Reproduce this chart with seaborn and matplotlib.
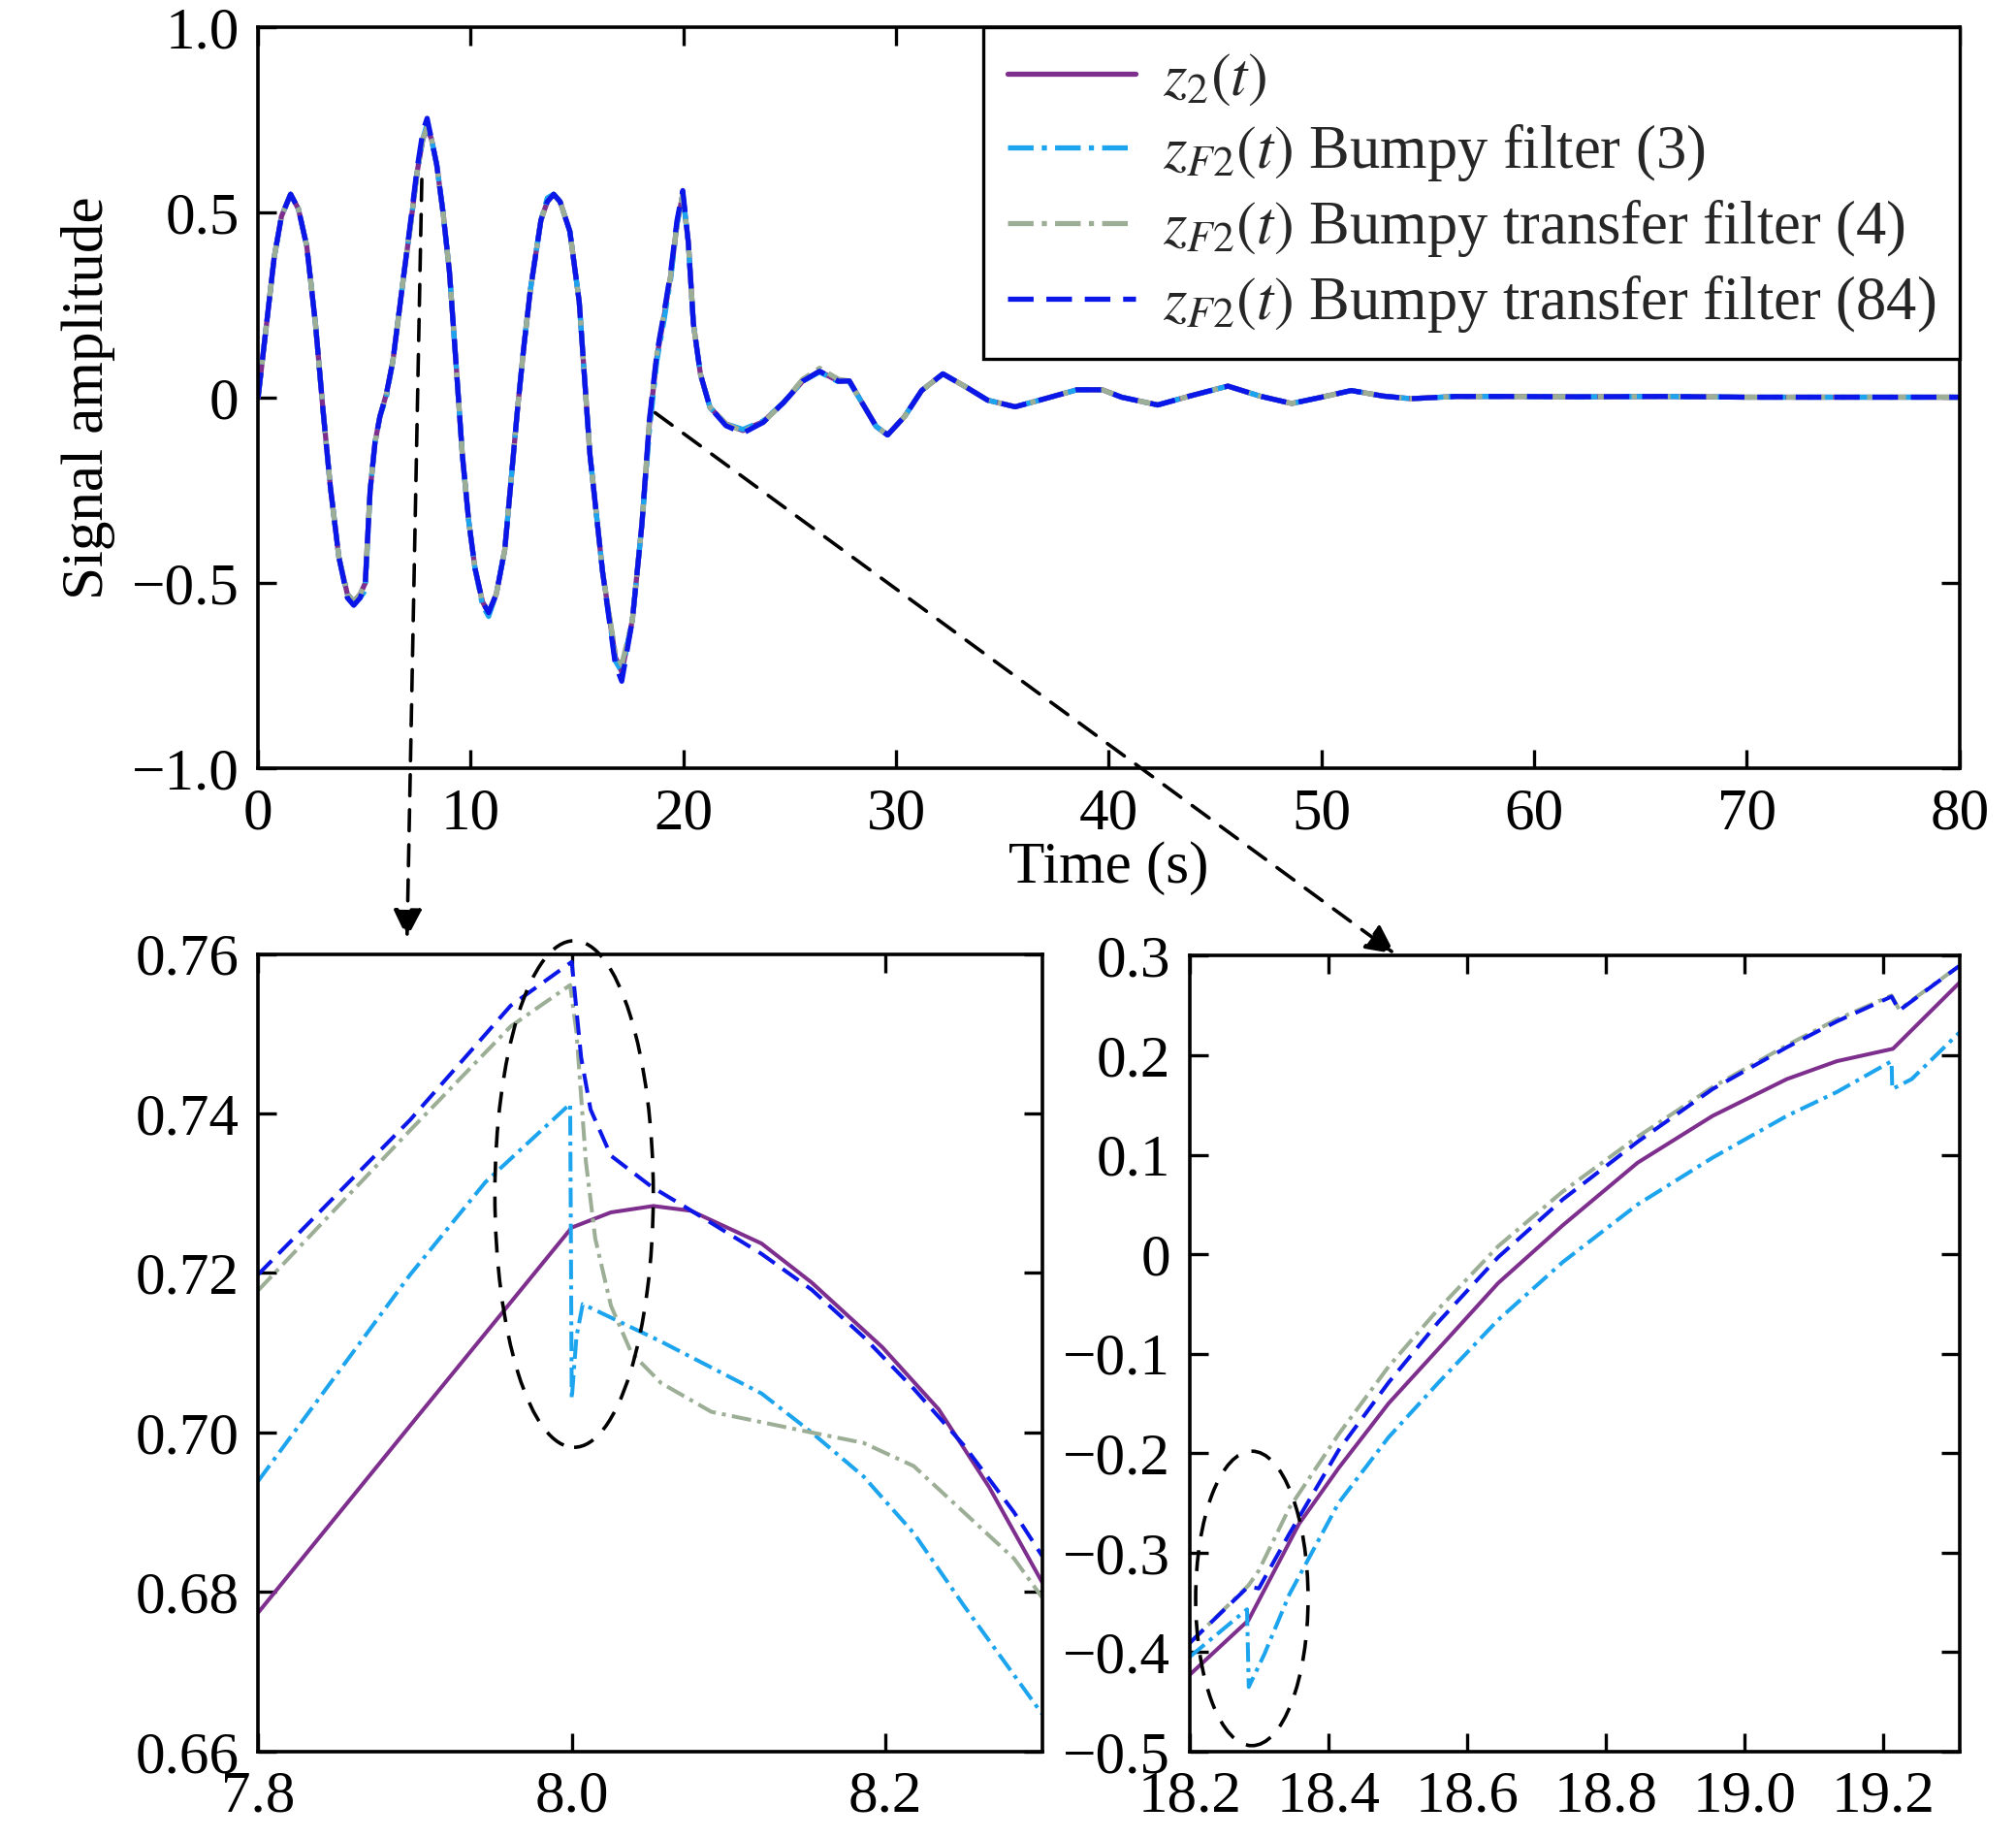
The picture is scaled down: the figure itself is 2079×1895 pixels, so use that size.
import matplotlib
matplotlib.use('Agg')
import matplotlib.pyplot as plt
import matplotlib as mpl
from matplotlib.patches import Ellipse, ConnectionPatch
from matplotlib.ticker import FuncFormatter
import seaborn as sns
import pandas as pd

sns.set_theme(style="ticks")
mpl.rcParams.update({
    'font.family': ['Liberation Serif', 'DejaVu Serif'],
    'mathtext.fontset': 'stix',
    'font.size': 44,
    'axes.linewidth': 2.6,
    'axes.edgecolor': 'black',
    'xtick.color': 'black',
    'ytick.color': 'black',
    'axes.labelcolor': 'black',
})

# ---------------------------------------------------------------------------
# data
# ---------------------------------------------------------------------------
# full record, 0-80 s
t_main = [0, 0.4, 0.76, 1.1, 1.53, 1.9, 2.29, 2.7, 3.05, 3.4, 3.8, 4.2, 4.5,
          4.8, 5.04, 5.27, 5.5, 5.73, 6.03, 6.34, 6.87, 7.2, 7.48, 7.75, 7.95,
          8.15, 8.4, 8.7, 9.0, 9.3, 9.6, 9.9, 10.2, 10.55, 10.84, 11.2, 11.6,
          11.9, 12.2, 12.5, 12.8, 13.3, 13.6, 13.9, 14.2, 14.66, 15.1, 15.6,
          16.2, 16.8, 17.1, 17.6, 18.05, 18.4, 18.75, 19.06, 19.4, 19.7, 19.97,
          20.23, 20.47, 20.8, 21.25, 22.0, 22.8, 23.75, 24.7, 25.6, 26.4, 27.3,
          27.8, 28.4, 29.06, 29.6, 30.4, 31.2, 32.2, 33.3, 34.3, 35.6, 37.0,
          38.5, 39.7, 40.6, 42.3, 43.8, 45.6, 47.1, 48.6, 50.0, 51.4, 52.9,
          54.2, 56.3, 58.9, 62, 66, 70, 75, 80]
z2_main = [0, 0.2, 0.38, 0.49, 0.55, 0.51, 0.41, 0.2, -0.03, -0.24, -0.43,
           -0.53, -0.55, -0.53, -0.5, -0.25, -0.12, -0.05, 0.01, 0.1, 0.34,
           0.48, 0.61, 0.7, 0.726, 0.7, 0.63, 0.5, 0.34, 0.1, -0.15, -0.33,
           -0.46, -0.55, -0.58, -0.53, -0.41, -0.22, -0.03, 0.14, 0.29, 0.48,
           0.53, 0.55, 0.53, 0.45, 0.26, -0.15, -0.47, -0.7, -0.74, -0.6,
           -0.34, -0.07, 0.11, 0.21, 0.33, 0.47, 0.55, 0.42, 0.2, 0.064,
           -0.026, -0.07, -0.088, -0.064, -0.013, 0.045, 0.072, 0.045, 0.046,
           -0.013, -0.077, -0.1, -0.05, 0.02, 0.065, 0.029, -0.006, -0.024,
           -0.002, 0.022, 0.022, 0.002, -0.019, 0.005, 0.032, 0.005, -0.015,
           0.002, 0.02, 0.005, -0.002, 0.004, 0.004, 0.003, 0.004, 0.002,
           0.002, 0.002]
bump3_main = [0, 0.2, 0.38, 0.49, 0.55, 0.51, 0.41, 0.2, -0.03, -0.24, -0.43,
              -0.53, -0.55, -0.54, -0.52, -0.25, -0.12, -0.05, 0.0, 0.1, 0.34,
              0.48, 0.61, 0.7, 0.74, 0.7, 0.63, 0.5, 0.34, 0.1, -0.15, -0.33,
              -0.46, -0.56, -0.59, -0.53, -0.41, -0.22, -0.03, 0.14, 0.29,
              0.48, 0.54, 0.55, 0.53, 0.45, 0.26, -0.15, -0.47, -0.71, -0.74,
              -0.6, -0.34, -0.09, 0.1, 0.2, 0.32, 0.47, 0.55, 0.42, 0.2, 0.064,
              -0.026, -0.07, -0.085, -0.062, -0.013, 0.045, 0.07, 0.043, 0.044,
              -0.013, -0.077, -0.1, -0.05, 0.02, 0.065, 0.029, -0.006, -0.024,
              -0.002, 0.022, 0.022, 0.002, -0.019, 0.005, 0.032, 0.005, -0.015,
              0.002, 0.02, 0.005, -0.002, 0.004, 0.004, 0.003, 0.004, 0.002,
              0.002, 0.002]
transfer4_main = [0, 0.2, 0.38, 0.49, 0.55, 0.51, 0.41, 0.2, -0.03, -0.24,
                  -0.43, -0.53, -0.55, -0.53, -0.5, -0.25, -0.12, -0.05, 0.01,
                  0.1, 0.34, 0.48, 0.61, 0.7, 0.73, 0.7, 0.63, 0.5, 0.34, 0.1,
                  -0.15, -0.33, -0.46, -0.55, -0.58, -0.53, -0.41, -0.22,
                  -0.03, 0.14, 0.29, 0.48, 0.53, 0.55, 0.53, 0.45, 0.26,
                  -0.15, -0.47, -0.69, -0.72, -0.6, -0.34, -0.06, 0.12, 0.22,
                  0.33, 0.47, 0.55, 0.42, 0.2, 0.064, -0.026, -0.07, -0.09,
                  -0.066, -0.013, 0.05, 0.08, 0.05, 0.046, -0.013, -0.077,
                  -0.1, -0.05, 0.02, 0.065, 0.029, -0.006, -0.024, -0.002,
                  0.022, 0.022, 0.002, -0.019, 0.005, 0.032, 0.005, -0.015,
                  0.002, 0.02, 0.005, -0.002, 0.004, 0.004, 0.003, 0.004,
                  0.002, 0.002, 0.002]
transfer84_main = [0, 0.2, 0.38, 0.49, 0.55, 0.51, 0.41, 0.2, -0.03, -0.24,
                   -0.43, -0.54, -0.56, -0.54, -0.5, -0.25, -0.12, -0.05,
                   0.01, 0.1, 0.34, 0.49, 0.62, 0.72, 0.755, 0.7, 0.63, 0.5,
                   0.34, 0.1, -0.15, -0.33, -0.46, -0.55, -0.58, -0.53, -0.41,
                   -0.22, -0.03, 0.14, 0.29, 0.48, 0.53, 0.55, 0.53, 0.45,
                   0.26, -0.15, -0.47, -0.72, -0.765, -0.6, -0.34, -0.06,
                   0.12, 0.22, 0.34, 0.48, 0.56, 0.42, 0.2, 0.064, -0.026,
                   -0.075, -0.095, -0.066, -0.013, 0.045, 0.072, 0.045, 0.046,
                   -0.013, -0.077, -0.1, -0.05, 0.02, 0.065, 0.029, -0.006,
                   -0.024, -0.002, 0.022, 0.022, 0.002, -0.019, 0.005, 0.032,
                   0.005, -0.015, 0.002, 0.02, 0.005, -0.002, 0.004, 0.004,
                   0.003, 0.004, 0.002, 0.002, 0.002]

# zoom around t = 8 s
t_l_z2 = [7.8, 7.9, 8.0, 8.025, 8.052, 8.076, 8.121, 8.153, 8.198, 8.234,
          8.266, 8.3]
z_l_z2 = [0.6774, 0.7016, 0.7257, 0.7276, 0.7284, 0.7278, 0.7237, 0.7188,
          0.7107, 0.7029, 0.6932, 0.6812]
t_l_b3 = [7.8, 7.897, 7.945, 7.999, 8.0, 8.003, 8.007, 8.057, 8.121, 8.153,
          8.186, 8.218, 8.25, 8.3]
z_l_b3 = [0.6939, 0.7198, 0.7314, 0.7412, 0.7042, 0.712, 0.7161, 0.7114,
          0.7049, 0.7, 0.6945, 0.6874, 0.6783, 0.6647]
t_l_t4 = [7.8, 7.897, 7.961, 7.999, 8.003, 8.009, 8.015, 8.025, 8.038, 8.057,
          8.089, 8.121, 8.153, 8.186, 8.218, 8.25, 8.282, 8.3]
z_l_t4 = [0.7178, 0.7379, 0.7509, 0.7561, 0.7502, 0.734, 0.7243, 0.7159,
          0.71, 0.7062, 0.7026, 0.7013, 0.7, 0.6987, 0.6958, 0.69, 0.6842,
          0.6793]
t_l_t84 = [7.8, 7.897, 7.961, 8.0, 8.006, 8.012, 8.025, 8.051, 8.073, 8.121,
           8.153, 8.186, 8.218, 8.25, 8.282, 8.3]
z_l_t84 = [0.7198, 0.7392, 0.7535, 0.759, 0.747, 0.7405, 0.7347, 0.7308,
           0.7282, 0.7224, 0.7179, 0.712, 0.7055, 0.6984, 0.69, 0.6845]

# zoom around t = 18.2-19.3 s
t_r_z2 = [18.2, 18.285, 18.358, 18.415, 18.487, 18.559, 18.645, 18.738,
          18.846, 18.954, 19.061, 19.133, 19.214, 19.31]
z_r_z2 = [-0.423, -0.368, -0.271, -0.215, -0.15, -0.095, -0.029, 0.029,
          0.092, 0.139, 0.176, 0.194, 0.2065, 0.273]
t_r_b3 = [18.2, 18.283, 18.2855, 18.308, 18.344, 18.415, 18.487, 18.559,
          18.645, 18.738, 18.846, 18.954, 19.061, 19.133, 19.212, 19.213,
          19.241, 19.31]
z_r_b3 = [-0.405, -0.357, -0.435, -0.402, -0.342, -0.25, -0.184, -0.129,
          -0.066, -0.008, 0.05, 0.097, 0.139, 0.163, 0.194, 0.166, 0.176,
          0.223]
t_r_t4 = [18.2, 18.285, 18.3, 18.344, 18.415, 18.487, 18.559, 18.645, 18.738,
          18.846, 18.954, 19.061, 19.133, 19.212, 19.223, 19.31]
z_r_t4 = [-0.391, -0.333, -0.318, -0.255, -0.181, -0.113, -0.055, 0.008,
          0.063, 0.118, 0.168, 0.21, 0.236, 0.26, 0.246, 0.29]
t_r_t84 = [18.2, 18.285, 18.3, 18.344, 18.415, 18.487, 18.559, 18.645,
           18.738, 18.846, 18.954, 19.061, 19.133, 19.212, 19.223, 19.31]
z_r_t84 = [-0.391, -0.334, -0.336, -0.281, -0.197, -0.129, -0.068, -0.003,
           0.055, 0.113, 0.166, 0.208, 0.234, 0.259, 0.245, 0.29]

labels = [r"$z_2(t)$",
          r"$z_{F2}(t)$ Bumpy filter (3)",
          r"$z_{F2}(t)$ Bumpy transfer filter (4)",
          r"$z_{F2}(t)$ Bumpy transfer filter (84)"]
colors = ['#7E2F8E', '#1CA4EE', '#9CAE95', '#0B16E8']
styles = ['-', (0, (5, 1.6, 1, 1.6)), (0, (5, 1.6, 1, 1.6)), (0, (5, 2.5))]

fig = plt.figure(figsize=(20.79, 18.95), dpi=100)
ax_m = fig.add_axes([0.128, 0.582, 0.844, 0.403])
ax_l = fig.add_axes([0.128, 0.047, 0.389, 0.434])
ax_r = fig.add_axes([0.590, 0.047, 0.382, 0.433])


def draw(ax, series, lw):
    for (t, z), lab, c, ls in zip(series, labels, colors, styles):
        df = pd.DataFrame({'t': t, 'z': z})
        sns.lineplot(data=df, x='t', y='z', ax=ax, color=c, linestyle=ls,
                     linewidth=lw, label=lab, sort=False, estimator=None)


draw(ax_m, [(t_main, z2_main), (t_main, bump3_main), (t_main, transfer4_main),
            (t_main, transfer84_main)], 3.8)
draw(ax_l, [(t_l_z2, z_l_z2), (t_l_b3, z_l_b3), (t_l_t4, z_l_t4),
            (t_l_t84, z_l_t84)], 2.9)
draw(ax_r, [(t_r_z2, z_r_z2), (t_r_b3, z_r_b3), (t_r_t4, z_r_t4),
            (t_r_t84, z_r_t84)], 2.9)


def fmt(dec):
    def f(v, pos):
        if abs(v) < 1e-9:
            return '0'
        return f"{v:.{dec}f}".replace('-', '\u2212')
    return FuncFormatter(f)


ax_m.set_xlim(0, 80)
ax_m.set_ylim(-1, 1)
ax_m.set_xticks(range(0, 81, 10))
ax_m.set_yticks([-1, -0.5, 0, 0.5, 1])
ax_m.yaxis.set_major_formatter(fmt(1))
ax_m.set_xlabel("Time (s)", fontsize=44, labelpad=0)
ax_m.set_ylabel("Signal amplitude", fontsize=44, labelpad=12)

ax_l.set_xlim(7.8, 8.3)
ax_l.set_ylim(0.66, 0.76)
ax_l.set_xticks([7.8, 8.0, 8.2])
ax_l.xaxis.set_major_formatter(fmt(1))
ax_l.set_yticks([0.66, 0.68, 0.70, 0.72, 0.74, 0.76])
ax_l.yaxis.set_major_formatter(fmt(2))

ax_r.set_xlim(18.2, 19.31)
ax_r.set_ylim(-0.5, 0.3)
ax_r.set_xticks([18.2, 18.4, 18.6, 18.8, 19.0, 19.2])
ax_r.xaxis.set_major_formatter(fmt(1))
ax_r.set_yticks([-0.5, -0.4, -0.3, -0.2, -0.1, 0, 0.1, 0.2, 0.3])
ax_r.yaxis.set_major_formatter(fmt(1))

for ax in (ax_m, ax_l, ax_r):
    ax.tick_params(direction='in', top=True, right=True, length=14,
                   width=2.4, labelsize=44, pad=14)
    for sp in ax.spines.values():
        sp.set_visible(True)
        sp.set_linewidth(2.6)
    if ax is not ax_m:
        ax.set_xlabel("")
        ax.set_ylabel("")
        ax.get_legend().remove()

leg = ax_m.legend(loc='upper right', borderaxespad=0, fancybox=False,
                  framealpha=1, edgecolor='black', fontsize=45,
                  handlelength=2.1, handletextpad=0.45, labelspacing=0.24,
                  borderpad=0.4)
leg.get_frame().set_linewidth(2.4)

# dashed ellipses marking the jumps
ax_l.add_patch(Ellipse((8.0015, 0.7299), 0.101, 0.0635, fill=False,
                       edgecolor='black', linestyle=(0, (6, 4)), lw=2.6,
                       clip_on=False, zorder=5))
ax_r.add_patch(Ellipse((18.29, -0.346), 0.162, 0.296, fill=False,
                       edgecolor='black', linestyle=(0, (6, 4)), lw=2.6,
                       clip_on=False, zorder=5))

# dashed arrows from the full record to the zooms
for xy_a, ax_b, xy_b in [((7.7, 0.59), ax_l, (7.895, 0.762)),
                         ((18.67, -0.04), ax_r, (18.496, 0.302))]:
    con = ConnectionPatch(xyA=xy_a, coordsA=ax_m.transData, xyB=xy_b,
                          coordsB=ax_b.transData, arrowstyle='-|>',
                          linestyle=(0, (6, 4)), lw=2.6, color='black',
                          mutation_scale=45, zorder=10)
    fig.add_artist(con)

fig.savefig("out.png", dpi=100)
